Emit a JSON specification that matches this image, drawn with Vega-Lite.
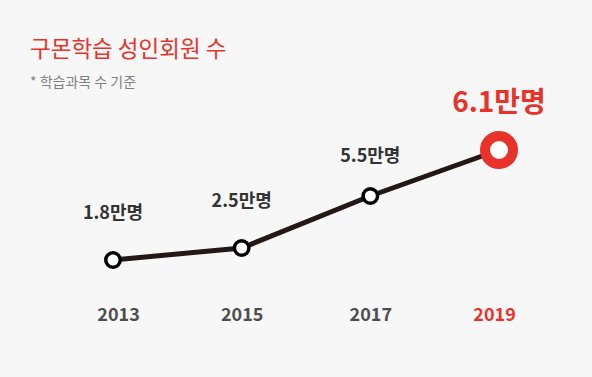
{
  "$schema": "https://vega.github.io/schema/vega-lite/v6.json",
  "width": 592,
  "height": 377,
  "autosize": {"type": "fit", "contains": "padding"},
  "padding": {"top": 38, "left": 0, "right": 0, "bottom": 53},
  "background": "#f7f7f7",
  "title": {
    "text": "구몬학습 성인회원 수",
    "subtitle": "* 학습과목 수 기준",
    "anchor": "start",
    "frame": "group",
    "dx": 30,
    "font": "Noto Sans CJK KR",
    "fontSize": 22.5,
    "fontWeight": "normal",
    "color": "#e8322a",
    "subtitleFont": "Noto Sans CJK KR",
    "subtitleFontSize": 14,
    "subtitleColor": "#808080",
    "subtitlePadding": 15,
    "offset": 0
  },
  "config": {"view": {"stroke": null}, "font": "Noto Sans CJK KR"},
  "data": {
    "values": [
      {"year": 2013, "value": 1.8, "label": "1.8만명"},
      {"year": 2015, "value": 2.5, "label": "2.5만명"},
      {"year": 2017, "value": 5.5, "label": "5.5만명"},
      {"year": 2019, "value": 6.1, "label": "6.1만명"}
    ]
  },
  "encoding": {
    "x": {
      "field": "year",
      "type": "quantitative",
      "scale": {"domain": [2013, 2019], "range": [113, 499], "nice": false, "zero": false},
      "axis": {
        "values": [2013, 2015, 2017, 2019],
        "format": "d",
        "title": null,
        "domain": false,
        "ticks": false,
        "tickSize": 0,
        "grid": false,
        "labelFlush": false,
        "labelPadding": 6,
        "labelFont": "Noto Sans CJK KR",
        "labelFontSize": 18,
        "labelFontWeight": "bold",
        "labelColor": {"expr": "datum.value == 2019 ? '#e8322a' : '#4d4d4d'"},
        "labelOffset": {"expr": "datum.value == 2013 ? 5 : datum.value == 2019 ? -5 : 0"}
      }
    },
    "y": {
      "field": "value",
      "type": "quantitative",
      "scale": {"domain": [1.8, 2.5, 5.5, 6.1], "range": [150, 138, 86, 40], "nice": false, "zero": false},
      "axis": null
    }
  },
  "layer": [
    {"mark": {"type": "line", "color": "#231815", "strokeWidth": 5}},
    {
      "transform": [{"filter": "datum.year != 2019"}],
      "mark": {"type": "point", "shape": "circle", "filled": true, "fill": "#ffffff", "stroke": "#000000", "strokeWidth": 3.5, "size": 210, "opacity": 1}
    },
    {
      "transform": [{"filter": "datum.year == 2019"}],
      "mark": {"type": "point", "shape": "circle", "filled": true, "fill": "#ffffff", "stroke": "#e8322a", "strokeWidth": 10, "size": 784, "opacity": 1}
    },
    {
      "transform": [{"filter": "datum.year == 2013 || datum.year == 2015"}],
      "mark": {"type": "text", "fontSize": 18, "fontWeight": "bold", "color": "#333333", "baseline": "middle", "dy": -46},
      "encoding": {"text": {"field": "label"}}
    },
    {
      "transform": [{"filter": "datum.year == 2017"}],
      "mark": {"type": "text", "fontSize": 18, "fontWeight": "bold", "color": "#333333", "baseline": "middle", "dy": -39},
      "encoding": {"text": {"field": "label"}}
    },
    {
      "transform": [{"filter": "datum.year == 2019"}],
      "mark": {"type": "text", "fontSize": 28, "fontWeight": "bold", "color": "#e8322a", "baseline": "middle", "dy": -46},
      "encoding": {"text": {"field": "label"}}
    }
  ]
}
